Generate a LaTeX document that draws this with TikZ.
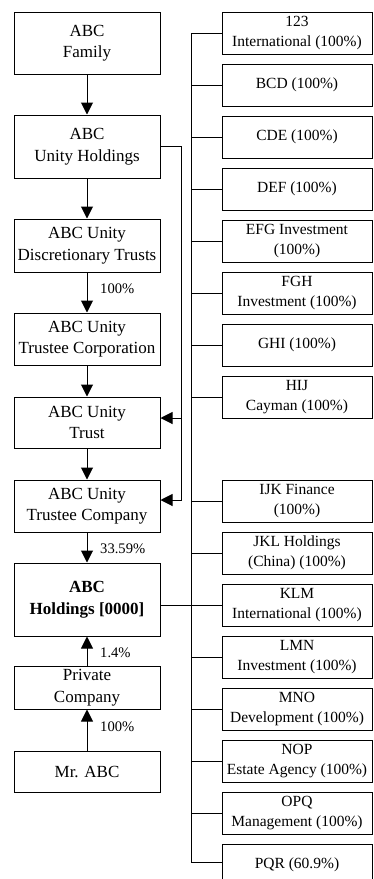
\documentclass[tikz,border=0pt]{standalone}
\usepackage{fontspec}
\setmainfont{Liberation Serif}
\usetikzlibrary{arrows.meta}
\begin{document}
\begin{tikzpicture}[x=1pt,y=-1pt,
 lbox/.style={draw, line width=1pt, minimum width=146pt, inner sep=1pt, align=center, font=\fontsize{17}{21.5}\selectfont},
 rbox/.style={draw, line width=1pt, minimum width=150pt, minimum height=42pt, inner sep=1pt, align=center, font=\fontsize{15.5}{20}\selectfont},
 conn/.style={line width=1pt},
 arr/.style={line width=1pt, -{Triangle[width=12pt,length=12pt]}},
 pct/.style={font=\fontsize{14.6}{17}\selectfont, anchor=west, inner sep=0pt}]
\useasboundingbox (0,0) rectangle (374,879);
% left column
\node[lbox, minimum height=62pt] (fam) at (87,43) {ABC\\Family};
\node[lbox, minimum height=63pt] (uh) at (87,146.5) {ABC\\Unity Holdings};
\node[lbox, minimum height=53pt] (dt) at (87,245.5) {ABC Unity\\Discretionary Trusts};
\node[lbox, minimum height=52pt] (tc) at (87,339) {ABC Unity\\Trustee Corporation};
\node[lbox, minimum height=51pt] (tr) at (87,422.5) {ABC Unity\\Trust};
\node[lbox, minimum height=52pt] (tco) at (87,506) {ABC Unity\\Trustee Company};
\node[lbox, minimum height=73pt, font=\fontsize{17}{21.5}\selectfont\bfseries] (hold) at (87,599.5) {ABC\\Holdings [0000]};
\node[lbox, minimum height=43pt] (pc) at (87,687.5) {Private\\Company};
\node[lbox, minimum height=41pt] (mr) at (87,771.5) {Mr. ABC};
% vertical arrows
\draw[arr] (fam) -- (uh);
\draw[arr] (uh) -- (dt);
\draw[arr] (dt) -- (tc);
\draw[arr] (tc) -- (tr);
\draw[arr] (tr) -- (tco);
\draw[arr] (tco) -- (hold);
\draw[arr] (pc) -- (hold);
\draw[arr] (mr) -- (pc);
\node[pct] (l1) at (100,289) {100\%};
\node[pct] (l2) at (100,549) {33.59\%};
\node[pct] (l3) at (100,653) {1.4\%};
\node[pct] (l4) at (100,727) {100\%};
% side link from Unity Holdings
\coordinate (v1top) at (181,146.5);
\coordinate (v1a) at (181,418);
\coordinate (v1b) at (181,500);
\draw[arr] (uh.east) -- (v1top) -- (v1b) -- (v1b -| tco.east);
\draw[arr] (v1a) -- (v1a -| tr.east);
% right column
\node[rbox] (r1) at (297,33) {123\\International (100\%)};
\node[rbox] (r2) at (297,85) {BCD (100\%)};
\node[rbox] (r3) at (297,137) {CDE (100\%)};
\node[rbox] (r4) at (297,189) {DEF (100\%)};
\node[rbox] (r5) at (297,241) {EFG Investment\\(100\%)};
\node[rbox] (r6) at (297,293) {FGH\\Investment (100\%)};
\node[rbox] (r7) at (297,345) {GHI (100\%)};
\node[rbox] (r8) at (297,397) {HIJ\\Cayman (100\%)};
\node[rbox] (r9) at (297,501) {IJK Finance\\(100\%)};
\node[rbox] (r10) at (297,553) {JKL Holdings\\(China) (100\%)};
\node[rbox] (r11) at (297,605) {KLM\\International (100\%)};
\node[rbox] (r12) at (297,657) {LMN\\Investment (100\%)};
\node[rbox] (r13) at (297,709) {MNO\\Development (100\%)};
\node[rbox] (r14) at (297,761) {NOP\\Estate Agency (100\%)};
\node[rbox] (r15) at (297,813) {OPQ\\Management (100\%)};
\node[rbox] (r16) at (297,865) {PQR (60.9\%)};
% bus
\coordinate (bus) at (191,0);
\coordinate (pqrin) at ([yshift=3pt]r16.west);
\draw[conn] (r1.west -| bus) -- (pqrin -| bus);
\foreach \r in {r1,r2,r3,r4,r5,r6,r7,r8,r9,r10,r11,r12,r13,r14,r15}
  \draw[conn] (\r.west -| bus) -- (\r.west);
\draw[conn] (pqrin -| bus) -- (pqrin);
\draw[conn] (hold.east |- r11.west) -- (r11.west -| bus);
\end{tikzpicture}
\end{document}
